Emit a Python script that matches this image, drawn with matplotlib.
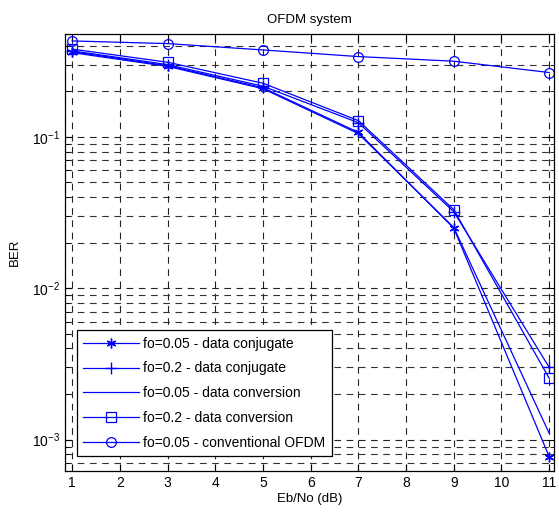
import matplotlib
matplotlib.use("Agg")
import matplotlib.pyplot as plt
import numpy as np

plt.rcParams['font.family'] = ['Liberation Sans', 'DejaVu Sans']

# Eb/No values (dB)
ebno = [1, 3, 5, 7, 9, 11]

# BER curves
ber_conj_005 = [0.365, 0.295, 0.211, 0.107, 0.0249, 0.00077]
ber_conj_02 = [0.370, 0.300, 0.216, 0.124, 0.0320, 0.0030]
ber_conv_005 = [0.360, 0.292, 0.208, 0.105, 0.0252, 0.00110]
ber_conv_02 = [0.380, 0.311, 0.226, 0.128, 0.0330, 0.00254]
ber_ofdm_005 = [0.430, 0.413, 0.375, 0.339, 0.316, 0.266]

labels = ['fo=0.05 - data conjugate', 'fo=0.2 - data conjugate',
          'fo=0.05 - data conversion', 'fo=0.2 - data conversion',
          'fo=0.05 - conventional OFDM']

fig = plt.figure(figsize=(5.59, 5.15), dpi=100)
ax = fig.add_axes([0.1163, 0.0854, 0.8747, 0.8486])

blue = '#0000ff'
lw = 0.9
ax.semilogy(ebno, ber_conj_005, color=blue, lw=lw, marker=(6, 2, 0), ms=7, mew=1.0, label=labels[0])
ax.semilogy(ebno, ber_conj_02, color=blue, lw=lw, marker='+', ms=9, mew=1.0, label=labels[1])
ax.semilogy(ebno, ber_conv_005, color=blue, lw=lw, label=labels[2])
ax.semilogy(ebno, ber_conv_02, color=blue, lw=lw, marker='s', ms=7, mfc='none', mew=0.9, label=labels[3])
ax.semilogy(ebno, ber_ofdm_005, color=blue, lw=lw, marker='o', ms=7, mfc='none', mew=0.9, label=labels[4])

ax.set_xlim(0.85, 11.1)
ax.set_ylim(6.2e-4, 0.478)
ax.set_xticks(range(1, 12))

# MATLAB-like dashed grid on major and minor ticks
ax.grid(True, which='major', ls=(0, (6, 5)), color='#222222', lw=0.8)
ax.grid(True, which='minor', axis='y', ls=(0, (6, 5)), color='#333333', lw=0.8)
ax.tick_params(which='both', direction='in', top=True, right=True, labelsize=10)
ax.tick_params(which='major', length=5)
ax.tick_params(which='minor', length=3)
for s in ax.spines.values():
    s.set_linewidth(0.9)

ax.set_title('OFDM system', fontsize=9.5, pad=8)
ax.set_xlabel('Eb/No (dB)', fontsize=9.5, labelpad=2)
ax.set_ylabel('BER', fontsize=9.5, labelpad=8)

leg = ax.legend(loc='lower left', bbox_to_anchor=(0.024, 0.034), fontsize=10,
                frameon=True, fancybox=False, framealpha=1, edgecolor='black',
                handlelength=4.0, borderpad=0.45, labelspacing=0.78, handletextpad=0.35,
                borderaxespad=0)
leg.get_frame().set_linewidth(0.9)

fig.savefig('out.png', dpi=100)
